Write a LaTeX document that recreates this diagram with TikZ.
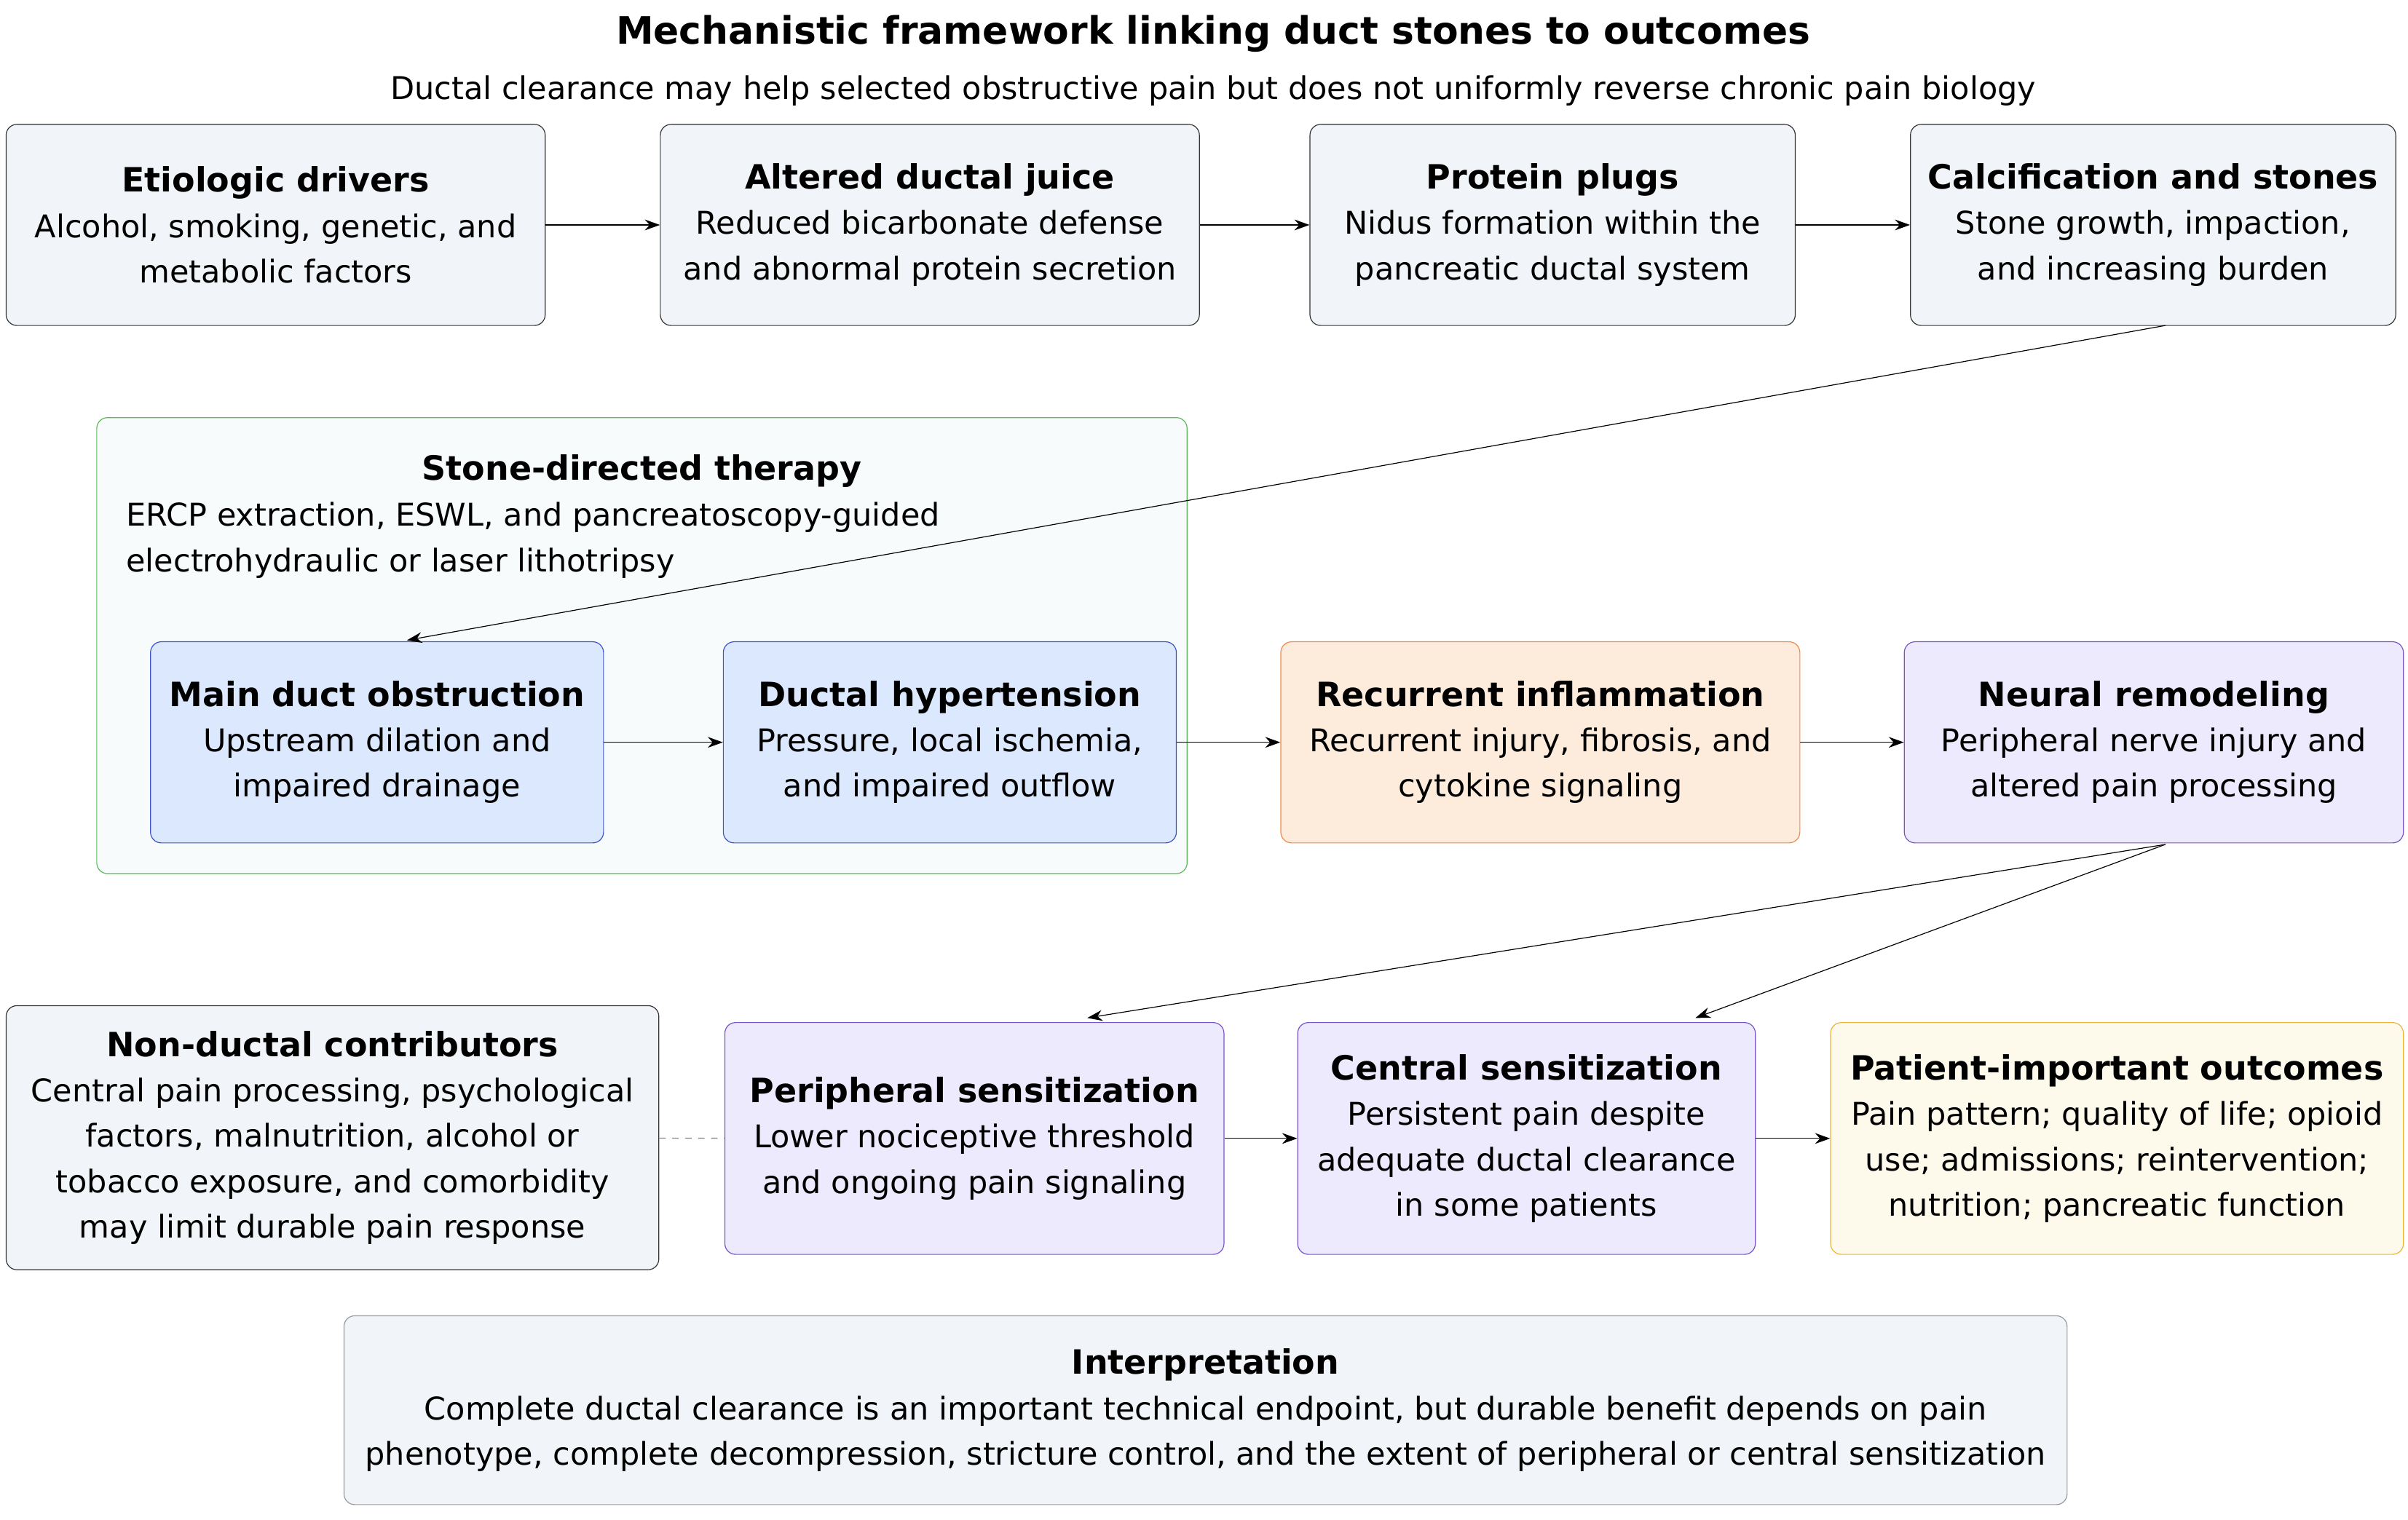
\documentclass[tikz,border=0pt]{standalone}
\usepackage{fontspec}
\setmainfont{DejaVu Sans}
\usetikzlibrary{positioning}
\usetikzlibrary{arrows.meta}
\definecolor{greyfill}{HTML}{F1F4F8}
\definecolor{bluefill}{HTML}{DBE8FD}
\definecolor{blueline}{HTML}{3B55C8}
\definecolor{orangefill}{HTML}{FDEBDC}
\definecolor{orangeline}{HTML}{F08A4B}
\definecolor{purplefill}{HTML}{EEEAFD}
\definecolor{purpleline}{HTML}{7A52C7}
\definecolor{yellowfill}{HTML}{FEFAEB}
\definecolor{yellowline}{HTML}{EDB43A}
\definecolor{greenline}{HTML}{5DB85C}
\definecolor{greenfill}{HTML}{F8FBFB}
\tikzset{
    % Arrow tip used throughout
    >={Stealth[length=7pt,width=5pt]},
%
    % The general rounded box with a bold heading
    stagebox/.style={
        draw, rounded corners=5pt, align=center, inner sep=0pt,
        font=\fontsize{14.5}{21}\selectfont},
    grey box/.style={stagebox, fill=greyfill, draw=black!80},
    blue box/.style={stagebox, fill=bluefill, draw=blueline},
    orange box/.style={stagebox, fill=orangefill, draw=orangeline},
    purple box/.style={stagebox, fill=purplefill, draw=purpleline},
    yellow box/.style={stagebox, fill=yellowfill, draw=yellowline},
    link/.style={->, thin}}
\newcommand{\hd}[1]{\textbf{\fontsize{15.5}{24}\selectfont #1}}

\begin{document}
\begin{tikzpicture}[x=0.25mm, y=-0.25mm]
\useasboundingbox (0,0) rectangle (1568,990);

% Title and subtitle
\node[font=\bfseries\fontsize{17.5}{20}\selectfont] (title) at (790,22)
    {Mechanistic framework linking duct stones to outcomes};
\node[font=\fontsize{14.5}{18}\selectfont] (subtitle) at (790,59)
    {Ductal clearance may help selected obstructive pain but does not uniformly reverse chronic pain biology};

% Upper row of stages
\node[grey box, minimum width=87.75mm, minimum height=32.75mm] (drivers) at (179.5,146.5)
    {\hd{Etiologic drivers}\\Alcohol, smoking, genetic, and\\metabolic factors};
\node[grey box, minimum width=87.75mm, minimum height=32.75mm] (juice) at (605.5,146.5)
    {\hd{Altered ductal juice}\\Reduced bicarbonate defense\\and abnormal protein secretion};
\node[grey box, minimum width=79mm, minimum height=32.75mm] (plugs) at (1011,146.5)
    {\hd{Protein plugs}\\Nidus formation within the\\pancreatic ductal system};
\node[grey box, minimum width=79mm, minimum height=32.75mm] (stones) at (1402,146.5)
    {\hd{Calcification and stones}\\Stone growth, impaction,\\and increasing burden};

\draw[link] (drivers) -- (juice);
\draw[link] (juice) -- (plugs);
\draw[link] (plugs) -- (stones);

% Stone-directed therapy group
\draw[greenline, fill=greenfill, rounded corners=5pt] (63,272) rectangle (773,569);
\node[font=\bfseries\fontsize{15.5}{18}\selectfont] (therapy) at (418,307)
    {Stone-directed therapy};
\node[anchor=north west, align=left, inner sep=0pt,
    font=\fontsize{14.5}{21}\selectfont] (therapy text) at (82,327)
    {ERCP extraction, ESWL, and pancreatoscopy-guided\\electrohydraulic or laser lithotripsy};

% Middle row
\node[blue box, minimum width=73.75mm, minimum height=32.75mm] (obstruction) at (245.5,483.5)
    {\hd{Main duct obstruction}\\Upstream dilation and\\impaired drainage};
\node[blue box, minimum width=73.75mm, minimum height=32.75mm] (hypertension) at (618.5,483.5)
    {\hd{Ductal hypertension}\\Pressure, local ischemia,\\and impaired outflow};
\node[orange box, minimum width=84.5mm, minimum height=32.75mm] (inflammation) at (1003,483.5)
    {\hd{Recurrent inflammation}\\Recurrent injury, fibrosis, and\\cytokine signaling};
\node[purple box, minimum width=81.25mm, minimum height=32.75mm] (neural) at (1402.5,483.5)
    {\hd{Neural remodeling}\\Peripheral nerve injury and\\altered pain processing};

\coordinate (stones foot) at (1410,212);
\coordinate (obstruction top) at (265,417);
\draw[link] (stones foot) -- (obstruction top);
\draw[link] (obstruction) -- (hypertension);
\draw[link] (hypertension) -- (inflammation);
\draw[link] (inflammation) -- (neural);

% Lower row
\node[grey box, minimum width=106.25mm, minimum height=43mm] (nonductal) at (216.5,741)
    {\hd{Non-ductal contributors}\\Central pain processing, psychological\\factors, malnutrition, alcohol or\\tobacco exposure, and comorbidity\\may limit durable pain response};
\node[purple box, minimum width=81.25mm, minimum height=37.75mm] (peripheral) at (634.5,741.5)
    {\hd{Peripheral sensitization}\\Lower nociceptive threshold\\and ongoing pain signaling};
\node[purple box, minimum width=74.5mm, minimum height=37.75mm] (central) at (994,741.5)
    {\hd{Central sensitization}\\Persistent pain despite\\adequate ductal clearance\\in some patients};
\node[yellow box, minimum width=93.25mm, minimum height=37.75mm] (outcomes) at (1378.5,741.5)
    {\hd{Patient-important outcomes}\\Pain pattern; quality of life; opioid\\use; admissions; reintervention;\\nutrition; pancreatic function};

\coordinate (neural foot) at (1410,550);
\draw[link] (neural foot) -- (708,663);
\draw[link] (neural foot) -- (1104,663);
\draw[dashed, gray] (nonductal) -- (peripheral);
\draw[link] (peripheral) -- (central);
\draw[link] (central) -- (outcomes);

% Closing interpretation
\node[grey box, draw=black!40, minimum width=280.5mm, minimum height=30.75mm] (interpretation) at (785,918.5)
    {\hd{Interpretation}\\Complete ductal clearance is an important technical endpoint, but durable benefit depends on pain\\phenotype, complete decompression, stricture control, and the extent of peripheral or central sensitization};

\end{tikzpicture}
\end{document}
